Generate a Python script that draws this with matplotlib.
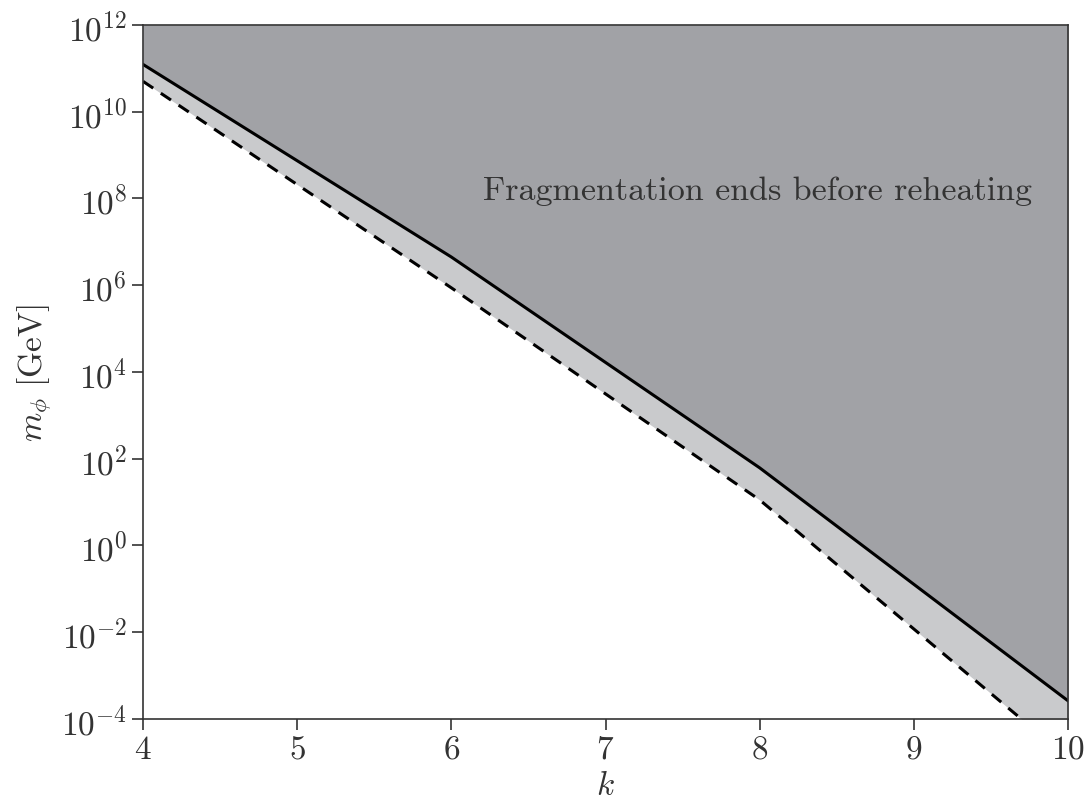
import matplotlib
matplotlib.use("Agg")
import matplotlib.pyplot as plt
import numpy as np
from matplotlib.ticker import LogLocator, NullLocator

plt.rcParams["font.family"] = "serif"
plt.rcParams["font.serif"] = ["cmr10"]
plt.rcParams["mathtext.fontset"] = "cm"
plt.rcParams["axes.formatter.use_mathtext"] = True

# log10 of m_phi [GeV] at the break points in k
k_nodes = [4, 6, 8, 10]
log_m_frag = [11.09, 6.65, 1.79, -3.58]   # fragmentation ends at reheating
log_m_reh = [10.70, 5.94, 1.05, -4.90]    # dashed bound

DARK = "#a1a2a6"
LIGHT = "#c9cacc"

fig = plt.figure(figsize=(10.87, 8.04), dpi=100)
ax = fig.add_axes([0.1316, 0.1045, 0.8509, 0.8632])

m_frag = 10.0 ** np.array(log_m_frag)
m_reh = 10.0 ** np.array(log_m_reh)

ax.fill_between(k_nodes, m_reh, 1e12, color=LIGHT, lw=0)
ax.fill_between(k_nodes, m_frag, 1e12, color=DARK, lw=0)

ax.plot(k_nodes, m_frag, color="k", lw=2.2)
ax.plot(k_nodes, m_reh, color="k", lw=2.2, ls=(0, (4, 3)))

ax.text(0.368, 0.762, "Fragmentation ends before reheating", transform=ax.transAxes,
        fontsize=24.5, color="#333333", ha="left", va="center")

ax.set_yscale("log")
ax.set_xlim(4, 10)
ax.set_ylim(1e-4, 1e12)
ax.set_xticks([4, 5, 6, 7, 8, 9, 10])
ax.yaxis.set_major_locator(LogLocator(base=100))
ax.yaxis.set_minor_locator(NullLocator())
ax.tick_params(labelsize=24, length=8, width=1.2, direction="out", colors="#333333")
for s in ax.spines.values():
    s.set_linewidth(1.2)
    s.set_color("#333333")

ax.set_xlabel(r"$k$", fontsize=24, labelpad=5, color="#333333")
ax.set_ylabel(r"$m_\phi\ \mathrm{[GeV]}$", fontsize=24, labelpad=6, color="#333333")

fig.savefig("out.png", dpi=100)
